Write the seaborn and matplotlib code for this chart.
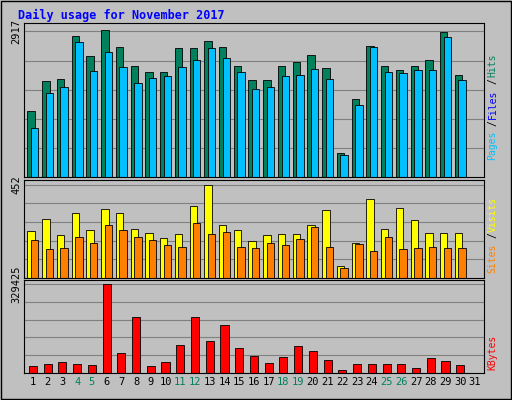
import numpy as np
import matplotlib
matplotlib.use("Agg")
import matplotlib.pyplot as plt
import seaborn as sns

days = list(range(1, 32))
hits = [1320, 1920, 1960, 2820, 2420, 2940, 2600, 2220, 2100, 2100, 2580, 2580, 2720, 2600, 2220,
        1940, 1940, 2220, 2300, 2440, 2180, 480, 1560, 2620, 2220, 2140, 2220, 2340, 2900, 2040, 0]
pages = [980, 1680, 1800, 2700, 2120, 2500, 2200, 1880, 1980, 2020, 2200, 2340, 2580, 2380, 2100,
         1760, 1800, 2020, 2040, 2160, 1960, 440, 1440, 2600, 2100, 2080, 2140, 2140, 2800, 1940, 0]
visits = [226, 285, 206, 314, 231, 334, 314, 236, 216, 192, 211, 349, 452, 255, 231,
          177, 206, 211, 211, 255, 329, 59, 172, 383, 236, 340, 280, 216, 216, 216, 0]
sites = [182, 142, 147, 201, 172, 255, 231, 201, 182, 162, 152, 265, 211, 221, 152,
         147, 172, 162, 191, 246, 152, 49, 167, 132, 201, 142, 147, 152, 147, 147, 0]
kbytes = [26000, 33000, 41000, 33000, 30000, 329425, 74000, 209000, 26000, 41000, 104000, 206000,
          120000, 176000, 93000, 63000, 37000, 60000, 101000, 82000, 49000, 11000, 33000, 33000,
          33000, 33000, 19000, 56000, 45000, 30000, 0]
day_labels = [str(d) for d in days]
weekend = {4, 5, 11, 12, 18, 19, 25, 26}

BG = "#C0C0C0"
fig = plt.figure(figsize=(5.12, 4.0), dpi=100, facecolor=BG)
fig.add_artist(plt.Rectangle((0.002, 0.002), 0.996, 0.996, fill=False, ec="black", lw=1, transform=fig.transFigure))
fig.text(0.035, 0.962, "Daily usage for November 2017", color="#0000FF", fontsize=8.5,
         fontweight="bold", family="DejaVu Sans Mono", va="center")

L, R = 0.047, 0.945
axes = [fig.add_axes([L, 0.557, R - L, 0.385]),
        fig.add_axes([L, 0.305, R - L, 0.245]),
        fig.add_axes([L, 0.068, R - L, 0.232])]
d = np.array(days, dtype=float)

def bars(ax, x, y, color, w=0.5):
    sns.barplot(x=x, y=y, native_scale=True, width=w, color=color, edgecolor="black",
                linewidth=0.6, saturation=1, ax=ax)

bars(axes[0], d - 0.12, hits, "#00805C")
bars(axes[0], d + 0.12, pages, "#00C0FF")
bars(axes[1], d - 0.12, visits, "#FFFF00")
bars(axes[1], d + 0.12, sites, "#FF8000")
bars(axes[2], d, kbytes, "#FF0000", 0.55)

tops = [2917, 452, 329425]
ylims = [3080, 475, 345000]
for ax, t, yl in zip(axes, tops, ylims):
    ax.set_facecolor(BG)
    ax.set_xlim(0.4, 31.6)
    ax.set_ylim(0, yl)
    for k in range(1, 6):
        ax.axhline(t * k / 5, color="#808080", lw=0.8, zorder=0)
    ax.set_yticks([t])
    ax.set_yticklabels([str(t)], rotation=90, va="center", fontsize=7.5, family="DejaVu Sans Mono")
    ax.tick_params(axis="y", length=0, pad=2)
    ax.set_xlabel(""); ax.set_ylabel("")
    for s in ax.spines.values():
        s.set_color("black")
    ax.set_xticks([])

axes[2].set_xticks(days)
axes[2].set_xticklabels(day_labels, fontsize=7.5, family="DejaVu Sans Mono")
axes[2].tick_params(axis="x", length=0, pad=3)
for lbl, dd in zip(axes[2].get_xticklabels(), days):
    lbl.set_color("#00805C" if dd in weekend else "black")

def side(y, parts):
    x = 0.962
    yy = y
    for txt, col in parts:
        fig.text(x, yy, txt, color=col, rotation=90, fontsize=7, family="DejaVu Sans Mono",
                 va="bottom", ha="center")
        yy += len(txt) * 0.0172

side(0.6, [("Pages", "#00C0FF"), ("/", "black"), ("Files", "#0000FF"), ("/", "black"), ("Hits", "#00805C")])
side(0.318, [("Sites", "#FF8000"), ("/", "black"), ("Visits", "#FFFF00")])
side(0.075, [("KBytes", "#FF0000")])

fig.savefig("out.png", dpi=100, facecolor=BG)
